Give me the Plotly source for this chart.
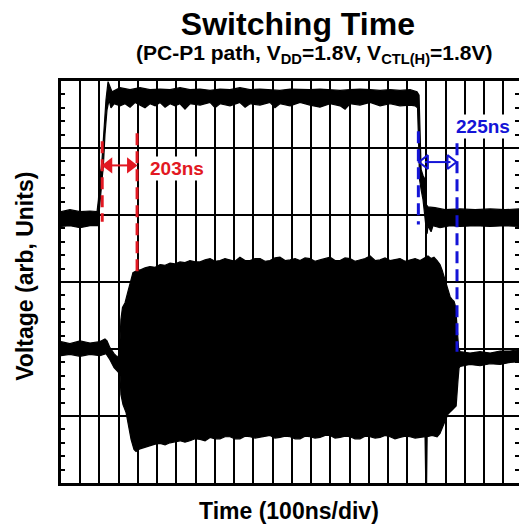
import plotly.graph_objects as go

# ---- scope settings -------------------------------------------------------
DIV_NS = 112            # grid division width in ns
N_YDIV = 6              # vertical divisions
T_END = 2667            # right edge of the visible record, ns

# ---- control (V_CTL) trace: upper / lower edges of the noisy band ----------
ctl_top_t = [0, 52, 111, 169, 210, 218, 227, 233, 239, 250, 262, 274, 285, 297,
             344, 402, 460, 518, 577, 635, 693, 751, 810, 868, 926, 984, 1042,
             1101, 1159, 1217, 1275, 1334, 1392, 1450, 1508, 1567, 1625, 1683,
             1741, 1800, 1858, 1916, 1974, 2033, 2073, 2085, 2091, 2097, 2108,
             2120, 2126, 2137, 2178, 2236, 2324, 2411, 2499, 2586, 2667]
ctl_top_v = [4.05, 4.08, 4.05, 4.06, 4.05, 4.23, 4.60, 4.68, 4.83, 5.35, 5.72,
             5.99, 5.93, 5.84, 5.90, 5.87, 5.90, 5.87, 5.88, 5.87, 5.90, 5.87,
             5.88, 5.86, 5.88, 5.87, 5.90, 5.87, 5.88, 5.87, 5.86, 5.88, 5.87,
             5.87, 5.88, 5.87, 5.86, 5.87, 5.88, 5.87, 5.86, 5.87, 5.86, 5.87,
             5.84, 5.79, 5.27, 4.68, 4.59, 4.53, 4.16, 4.12, 4.11, 4.08, 4.09,
             4.08, 4.09, 4.08, 4.09]
ctl_bot_t = [0, 52, 111, 169, 215, 224, 233, 242, 247, 256, 268, 280, 291, 309,
             344, 373, 402, 431, 460, 489, 518, 548, 577, 606, 635, 664, 693,
             722, 751, 810, 868, 897, 926, 984, 1042, 1072, 1101, 1159, 1217,
             1246, 1275, 1334, 1392, 1450, 1508, 1567, 1625, 1654, 1683, 1741,
             1800, 1858, 1916, 1974, 2033, 2062, 2076, 2082, 2088, 2097, 2108,
             2117, 2126, 2132, 2137, 2155, 2166, 2207, 2266, 2324, 2411, 2499,
             2586, 2667]
ctl_bot_v = [3.83, 3.84, 3.81, 3.84, 3.84, 4.01, 4.38, 4.60, 4.75, 5.20, 5.57,
             5.72, 5.60, 5.66, 5.63, 5.66, 5.61, 5.68, 5.64, 5.60, 5.66, 5.63,
             5.68, 5.61, 5.66, 5.63, 5.66, 5.58, 5.66, 5.64, 5.68, 5.60, 5.66,
             5.63, 5.68, 5.61, 5.66, 5.64, 5.68, 5.60, 5.66, 5.63, 5.68, 5.64,
             5.61, 5.66, 5.63, 5.58, 5.66, 5.64, 5.68, 5.63, 5.66, 5.63, 5.64,
             5.63, 5.60, 5.12, 4.53, 4.38, 4.23, 4.05, 3.81, 3.72, 3.84, 3.75,
             3.84, 3.81, 3.84, 3.83, 3.84, 3.83, 3.84, 3.83]

# ---- RF output: envelope of the carrier -----------------------------------
rf_top_t = [0, 52, 111, 169, 227, 256, 268, 285, 309, 332, 341, 344, 349, 358,
            373, 390, 402, 411, 419, 443, 460, 489, 518, 548, 577, 606, 635,
            664, 693, 722, 751, 781, 810, 839, 868, 897, 926, 955, 984, 1013,
            1042, 1072, 1101, 1130, 1159, 1188, 1217, 1246, 1275, 1305, 1334,
            1363, 1392, 1421, 1450, 1479, 1508, 1538, 1567, 1596, 1625, 1654,
            1683, 1712, 1741, 1771, 1800, 1829, 1858, 1887, 1916, 1945, 1974,
            2004, 2033, 2062, 2091, 2114, 2137, 2155, 2172, 2190, 2207, 2219,
            2231, 2242, 2254, 2266, 2277, 2289, 2298, 2304, 2309, 2315, 2324,
            2382, 2440, 2499, 2557, 2615, 2667]
rf_top_v = [2.11, 2.08, 2.12, 2.09, 2.11, 2.15, 2.12, 2.02, 1.93, 1.87, 1.99,
            2.21, 2.44, 2.62, 2.69, 2.86, 2.99, 3.10, 3.14, 3.17, 3.18, 3.21,
            3.23, 3.22, 3.26, 3.25, 3.28, 3.27, 3.30, 3.29, 3.32, 3.30, 3.30,
            3.33, 3.35, 3.31, 3.32, 3.35, 3.33, 3.31, 3.37, 3.32, 3.32, 3.35,
            3.35, 3.31, 3.32, 3.36, 3.37, 3.32, 3.33, 3.35, 3.32, 3.36, 3.35,
            3.31, 3.33, 3.35, 3.37, 3.32, 3.32, 3.36, 3.35, 3.31, 3.33, 3.35,
            3.39, 3.32, 3.33, 3.36, 3.32, 3.34, 3.35, 3.31, 3.33, 3.35, 3.32,
            3.36, 3.39, 3.35, 3.37, 3.32, 3.26, 3.18, 3.08, 2.99, 2.89, 2.78,
            2.74, 2.71, 2.63, 2.47, 2.24, 2.02, 1.96, 1.94, 1.96, 1.94, 1.97,
            1.97, 1.99]
rf_bot_t = [0, 52, 111, 169, 227, 262, 285, 309, 332, 344, 349, 361, 379, 396,
            408, 425, 437, 460, 489, 518, 548, 577, 606, 635, 664, 693, 722,
            751, 781, 810, 839, 868, 897, 926, 955, 984, 1013, 1042, 1072, 1101,
            1130, 1159, 1188, 1217, 1246, 1275, 1305, 1334, 1363, 1392, 1421,
            1450, 1479, 1508, 1538, 1567, 1596, 1625, 1654, 1683, 1712, 1741,
            1771, 1800, 1829, 1858, 1887, 1916, 1945, 1974, 2004, 2033, 2062,
            2091, 2120, 2124, 2129, 2132, 2161, 2190, 2207, 2219, 2231, 2242,
            2254, 2266, 2277, 2289, 2301, 2307, 2312, 2318, 2324, 2382, 2440,
            2499, 2557, 2615, 2667]
rf_bot_v = [1.90, 1.92, 1.89, 1.92, 1.90, 1.93, 1.84, 1.72, 1.66, 1.60, 1.32,
            1.17, 1.05, 0.83, 0.65, 0.50, 0.47, 0.51, 0.54, 0.56, 0.58, 0.59,
            0.57, 0.60, 0.62, 0.63, 0.61, 0.63, 0.66, 0.65, 0.63, 0.68, 0.66,
            0.66, 0.69, 0.69, 0.66, 0.66, 0.70, 0.69, 0.67, 0.68, 0.70, 0.71,
            0.67, 0.68, 0.70, 0.69, 0.66, 0.66, 0.70, 0.69, 0.67, 0.68, 0.71,
            0.71, 0.67, 0.68, 0.70, 0.69, 0.66, 0.66, 0.70, 0.69, 0.67, 0.68,
            0.71, 0.69, 0.66, 0.68, 0.70, 0.69, 0.67, 0.68, 0.69, 0.00, 0.00,
            0.69, 0.71, 0.69, 0.74, 0.80, 0.89, 0.96, 1.03, 1.06, 1.09, 1.12,
            1.15, 1.27, 1.54, 1.72, 1.74, 1.77, 1.75, 1.78, 1.77, 1.80, 1.81]

# ---- switching-time markers -----------------------------------------------
t_on_start = 240        # ns, control edge (ON)
t_on = 203              # ns, turn-on time
t_off_start = 2081      # ns, control edge (OFF)
t_off = 225             # ns, turn-off time
on_lines_v = [(5.10, 3.90), (5.22, 3.08)]
off_lines_v = [(5.25, 3.86), (5.07, 1.96)]
on_arrow_v = 4.74
off_arrow_v = 4.79

RED = "rgb(226,24,34)"
BLUE = "rgb(20,20,215)"
FONT = "Liberation Sans, Arial, sans-serif"

fig = go.Figure()


def band(top_t, top_v, bot_t, bot_v):
    return go.Scatter(
        x=list(top_t) + list(bot_t)[::-1],
        y=list(top_v) + list(bot_v)[::-1],
        mode="lines", fill="toself", fillcolor="black",
        line=dict(color="black", width=1.2),
        hoverinfo="skip", showlegend=False,
    )


fig.add_trace(band(ctl_top_t, ctl_top_v, ctl_bot_t, ctl_bot_v))
fig.add_trace(band(rf_top_t, rf_top_v, rf_bot_t, rf_bot_v))

# dashed measurement cursors
for t0, dur, lines, color in [(t_on_start, t_on, on_lines_v, RED),
                              (t_off_start, t_off, off_lines_v, BLUE)]:
    for t, (v_hi, v_lo) in zip([t0, t0 + dur], lines):
        fig.add_trace(go.Scatter(
            x=[t, t], y=[v_hi, v_lo], mode="lines",
            line=dict(color=color, width=3, dash="12px,6px"),
            hoverinfo="skip", showlegend=False))

# double-headed arrows between cursors
HEAD_NS = 38
fig.add_trace(go.Scatter(
    x=[t_on_start + HEAD_NS, t_on_start + t_on - HEAD_NS], y=[on_arrow_v] * 2,
    mode="lines+markers", line=dict(color=RED, width=2),
    marker=dict(symbol=["triangle-left", "triangle-right"], size=14, color=RED),
    hoverinfo="skip", showlegend=False))
fig.add_trace(go.Scatter(
    x=[t_off_start + HEAD_NS, t_off_start + t_off - HEAD_NS], y=[off_arrow_v] * 2,
    mode="lines+markers", line=dict(color=BLUE, width=2),
    marker=dict(symbol=["triangle-left-open", "triangle-right-open"], size=12,
                color=BLUE, line=dict(color=BLUE, width=2)),
    hoverinfo="skip", showlegend=False))

# helper trace so the right-hand tick axis is rendered
fig.add_trace(go.Scatter(x=[None], y=[None], yaxis="y2", showlegend=False,
                         hoverinfo="skip"))

fig.update_layout(
    width=519, height=525,
    margin=dict(l=61, r=0, t=81, b=42),
    paper_bgcolor="white", plot_bgcolor="white",
    font=dict(family=FONT, color="black"),
    xaxis=dict(range=[0, T_END], dtick=DIV_NS, tick0=0, showgrid=True,
               gridcolor="black", gridwidth=2, zeroline=False,
               showline=True, linecolor="black", linewidth=3, mirror=True,
               ticks="", showticklabels=False),
    yaxis=dict(range=[0, N_YDIV], dtick=1, tick0=0, showgrid=True,
               gridcolor="black", gridwidth=2, zeroline=False,
               showline=True, linecolor="black", linewidth=3,
               ticks="", showticklabels=False,
               minor=dict(dtick=0.2, ticks="inside", ticklen=4, tickwidth=2,
                          tickcolor="black", showgrid=False)),
    yaxis2=dict(range=[0, N_YDIV], overlaying="y", side="right", dtick=0.2,
                ticks="inside", ticklen=4, tickwidth=2, tickcolor="black",
                showgrid=False, zeroline=False, showline=False,
                showticklabels=False),
    title=dict(text="<b>Switching Time</b>", x=0.574, xanchor="center",
               xref="container", y=1 - 24 / 525, yanchor="middle",
               yref="container", font=dict(size=32, family=FONT)),
)

annotations = [
    dict(text="<b>(PC-P1 path, V<sub>DD</sub>=1.8V, V<sub>CTL(H)</sub>=1.8V)</b>",
         x=0.553, y=1.066, xref="paper", yref="paper", showarrow=False,
         font=dict(size=21), xanchor="center", yanchor="middle"),
    dict(text="<b>Time (100ns/div)</b>", x=0.498, y=-0.069, xref="paper",
         yref="paper", showarrow=False, font=dict(size=23),
         xanchor="center", yanchor="middle"),
    dict(text="<b>Voltage (arb, Units)</b>", x=-0.0786, y=0.513, xref="paper",
         yref="paper", showarrow=False, font=dict(size=23), textangle=-90,
         xanchor="center", yanchor="middle"),
    dict(text=f"<b>{t_on}ns</b>", x=674, y=4.69, xref="x", yref="y",
         showarrow=False, font=dict(size=19, color=RED), bgcolor="white",
         xanchor="center", yanchor="middle"),
    dict(text=f"<b>{t_off}ns</b>", x=2458, y=5.32, xref="x", yref="y",
         showarrow=False, font=dict(size=19, color=BLUE), bgcolor="white",
         xanchor="center", yanchor="middle"),
]
fig.update_layout(annotations=annotations)

fig.write_html("out.html")
